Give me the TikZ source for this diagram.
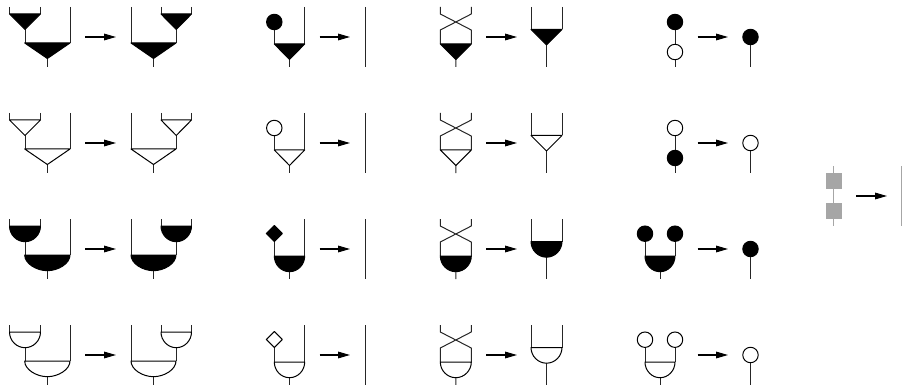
\documentclass[tikz,border=0pt]{standalone}
\usetikzlibrary{arrows.meta}
\tikzset{
  wire/.style={line width=0.75pt,line join=round,black!85},
  shapeline/.style={line width=0.75pt,line join=round,black},
  rewrite/.style={line width=0.8pt,-{Triangle[length=9pt,width=5pt]}},
  greywire/.style={line width=0.75pt,black!35},
  greybox/.style={fill=black!35,draw=none}
}
% triangle and half-disc gates: #1 left x, #2 right x, #3 bar y, #4 fill colour
\newcommand{\trigate}[4]{%
  \draw[shapeline,fill=#4] (#1,#3) -- (#2,#3) -- ({(#1+#2)/2},#3+15.5) -- cycle;}
\newcommand{\halfgate}[4]{%
  \draw[shapeline,fill=#4] (#1,#3) -- (#2,#3)
    .. controls (#2,#3+8.6) and ({(#1+#2)/2+0.16*(#2-#1)+3.5},#3+15.7) .. ({(#1+#2)/2},#3+15.7)
    .. controls ({(#1+#2)/2-0.16*(#2-#1)-3.5},#3+15.7) and (#1,#3+8.6) .. (#1,#3) -- cycle;}
\newcommand{\ballmark}[3]{\draw[shapeline,fill=#3] (#1,#2) circle[radius=5.8pt];}
\newcommand{\diamondmark}[3]{\draw[shapeline,fill=#3] (#1-8,#2) -- (#1,#2-8) -- (#1+8,#2) -- (#1,#2+8) -- cycle;}
% one row: #1 y offset, #2 gate macro, #3 fill
\newcommand{\gaterow}[3]{%
 \begin{scope}[shift={(0,#1)}]
  % column 1, left
  \draw[wire] (9.5,7) -- (9.5,14) (40.5,7) -- (40.5,14) (25,29) -- (25,43) (70,7) -- (70,43) (47.3,58) -- (47.3,67);
  #2{9.5}{40.5}{14}{#3}
  #2{24.7}{70}{43}{#3}
  \draw[rewrite] (85,37) -- (116,37);
  % column 1, right
  \draw[wire] (131,7) -- (131,43) (161,7) -- (161,14) (191.5,7) -- (191.5,14) (176,29) -- (176,43) (153.3,58) -- (153.3,67);
  #2{161}{191.5}{14}{#3}
  #2{131}{176}{43}{#3}
  \draw[rewrite] (319.5,37) -- (350,37);
  % column 2
  \draw[wire] (274.3,22) -- (274.3,44) (304.7,7) -- (304.7,44) (289.5,59) -- (289.5,67);
  #2{274.3}{304.7}{44}{#3}
  \draw[wire] (365,7) -- (365,67);
  % column 3
  \draw[wire] (440.3,7) -- (440.3,14) -- (471.3,30) -- (471.3,44)
              (471.3,7) -- (471.3,14) -- (440.3,30) -- (440.3,44)
              (455.8,59) -- (455.8,67);
  #2{440.3}{471.3}{44}{#3}
  \draw[rewrite] (486,37) -- (517,37);
  \draw[wire] (531,7) -- (531,29.5) (562,7) -- (562,29.5) (546.5,44) -- (546.5,67);
  #2{531}{562}{29.5}{#3}
  \draw[rewrite] (697.7,37) -- (728,37);
 \end{scope}}
\begin{document}
\begin{tikzpicture}[x=0.75pt,y=-0.75pt]
\useasboundingbox (0,0) rectangle (904,385);
\gaterow{0}{\trigate}{black}
\gaterow{106}{\trigate}{white}
\gaterow{212}{\halfgate}{black}
\gaterow{318}{\halfgate}{white}
% row marks, column 2
\ballmark{274.3}{22}{black}
\ballmark{274.3}{128}{white}
\diamondmark{274.3}{233.5}{black}
\diamondmark{274.3}{339.5}{white}
% column 4, rows 1-2
\draw[wire] (675,22) -- (675,67) (750.5,37) -- (750.5,67);
\ballmark{675}{22}{black}
\ballmark{675}{52}{white}
\ballmark{750.5}{37}{black}
\draw[wire] (675,128) -- (675,173) (750.5,143) -- (750.5,173);
\ballmark{675}{128}{white}
\ballmark{675}{158}{black}
\ballmark{750.5}{143}{white}
% column 4, rows 3-4
\draw[wire] (645,234) -- (645,256) (675,234) -- (675,256) (660,271) -- (660,279) (750.5,249) -- (750.5,279);
\halfgate{645}{675}{256}{black}
\ballmark{645}{233.7}{black}
\ballmark{675}{233.7}{black}
\ballmark{750.5}{249}{black}
\draw[wire] (645,340) -- (645,362) (675,340) -- (675,362) (660,377) -- (660,385) (750.5,355) -- (750.5,385);
\halfgate{645}{675}{362}{white}
\ballmark{645}{339.7}{white}
\ballmark{675}{339.7}{white}
\ballmark{750.5}{355}{white}
% grey rule
\draw[greywire] (833.7,166) -- (833.7,226);
\fill[greybox] (826,172.7) rectangle (842,189);
\fill[greybox] (826,203.3) rectangle (842,219.3);
\draw[rewrite] (856.3,196) -- (887,196);
\draw[greywire] (901.7,166) -- (901.7,226);
\end{tikzpicture}
\end{document}
